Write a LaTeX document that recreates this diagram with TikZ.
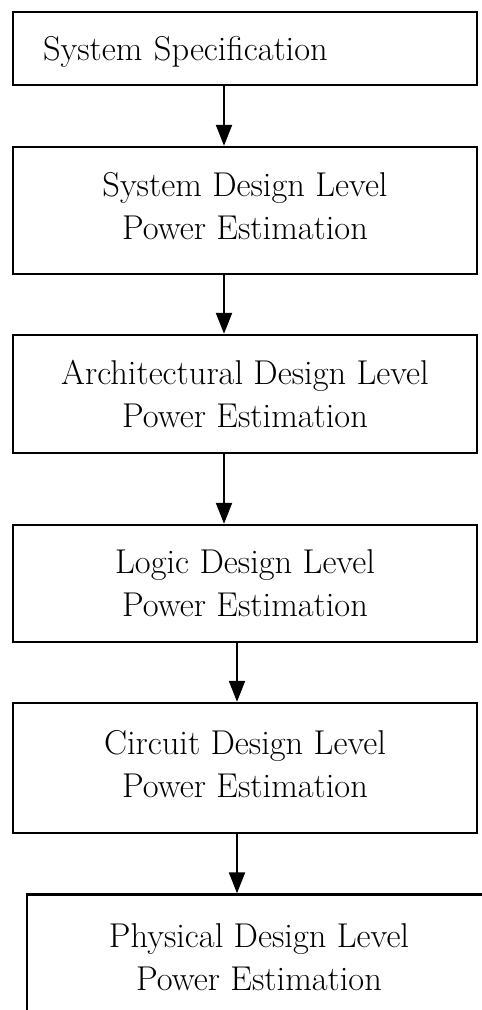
\documentclass[tikz,border=0pt]{standalone}
\usetikzlibrary{arrows.meta}

\tikzset{
  stage/.style={draw=black, line width=1.4pt, minimum width=9.28cm, inner sep=0pt,
    align=center, font=\fontsize{19.6}{24.5}\selectfont},
  flow/.style={line width=1.3pt, -{Triangle[length=0.42cm, width=0.32cm]}}
}

\begin{document}
\begin{tikzpicture}[x=0.02cm, y=-0.02cm]
\useasboundingbox (0,0) rectangle (482,1010);
\clip (0,0) rectangle (482,1010);

\node[stage, minimum height=1.46cm, text width=8.08cm, align=left, text depth=0pt] (spec) at (245,48.5) {System Specification};
\node[stage, minimum height=2.54cm, text depth=0.2cm] (sys) at (245,210.5) {System Design Level\\Power Estimation};
\node[stage, minimum height=2.36cm] (arch) at (245,394) {Architectural Design Level\\Power Estimation};
\node[stage, minimum height=2.34cm] (logic) at (245,583.5) {Logic Design Level\\Power Estimation};
\node[stage, minimum height=2.6cm, text depth=0.18cm] (circ) at (245,768) {Circuit Design Level\\Power Estimation};
\node[stage, minimum height=2.5cm] (phys) at (259,957) {Physical Design Level\\Power Estimation};

% arrow columns
\coordinate (upper) at (224,0);
\coordinate (lower) at (237,0);

\draw[flow] (spec.south -| upper) -- (sys.north -| upper);
\draw[flow] (sys.south -| upper) -- (arch.north -| upper);
\draw[flow] (arch.south -| upper) -- (logic.north -| upper);
\draw[flow] (logic.south -| lower) -- (circ.north -| lower);
\draw[flow] (circ.south -| lower) -- (phys.north -| lower);
\end{tikzpicture}
\end{document}
